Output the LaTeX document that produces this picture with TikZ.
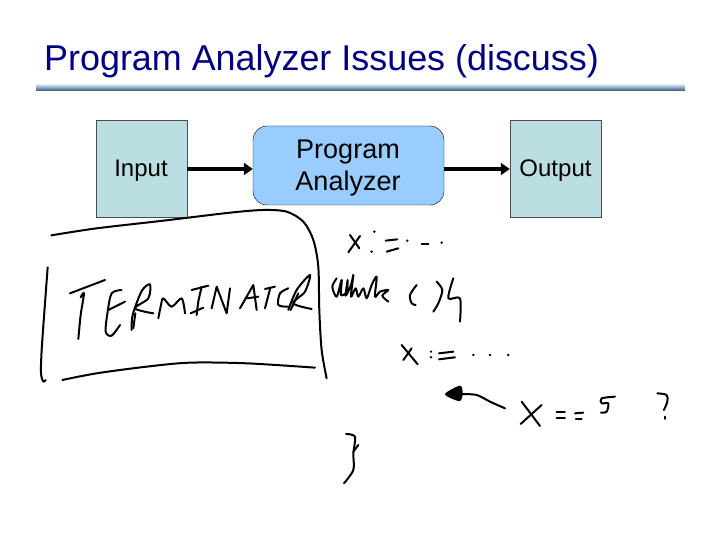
\documentclass[tikz,border=0pt]{standalone}
\usepackage{fontspec}
\setmainfont{Liberation Sans}
\usetikzlibrary{positioning,arrows.meta}
\definecolor{titleblue}{HTML}{000080}
\definecolor{boxteal}{HTML}{BBDEE2}
\definecolor{boxblue}{HTML}{99CCFF}
\definecolor{rulelight}{HTML}{C5DCE0}
\definecolor{ruledark}{HTML}{2F4F86}
\tikzset{
  iobox/.style={draw=black!70, fill=boxteal, minimum width=91pt, minimum height=97pt, inner sep=0pt, font=\fontsize{24}{28}\selectfont},
  analyzerbox/.style={draw=black, fill=boxblue, rounded corners=14pt, minimum width=191pt, minimum height=79pt, inner sep=0pt},
  analyzertext/.style={align=center, inner sep=0pt, font=\fontsize{27}{32}\selectfont},
  flow/.style={line width=3.2pt, -{Triangle[length=9pt,width=12pt]}},
  ink/.style={line width=2pt, line cap=round, line join=round},
  zoomed/.style={x=0.3333pt, y=-0.3333pt, ink},
}
\begin{document}
\begin{tikzpicture}[x=1pt, y=-1pt]
    \useasboundingbox[fill=white] (0,0) rectangle (720,540);

    \node[anchor=west, text=titleblue, inner sep=0pt, font=\fontsize{35.9}{40}\selectfont] (title) at (44,61.5) {Program Analyzer Issues (discuss)};
    \shade[top color=rulelight, bottom color=ruledark] (36,85) rectangle (685,91);

    \node[iobox] (input) at (141.5,168.5) {};
    \node[analyzerbox] (analyzer) at (348.5,165.5) {};
    \node[iobox] (output) at (555.5,168.5) {};
    \node[font=\fontsize{24}{28}\selectfont, inner sep=0pt] (inputlabel) at (141,171) {Input};
    \node[analyzertext] (analyzerlabel) at (348,168) {Program\\Analyzer};
    \node[font=\fontsize{24}{28}\selectfont, inner sep=0pt] (outputlabel) at (555.5,171) {Output};
    \draw[flow] (input.east |- 0,169) -- (analyzer.west |- 0,169);
    \draw[flow] (analyzer.east |- 0,169) -- (output.west |- 0,169);

    % box round the word
    \begin{scope}[shift={(30,210)}, zoomed]
        \draw plot[smooth] coordinates {(64,76) (200,55) (400,32) (600,8) (700,0) (770,5) (820,35) (850,90) (865,170) (868,300) (875,420) (890,505)};
        \draw plot[smooth] coordinates {(53,172) (45,280) (35,420) (33,490) (40,515) (47,510)};
        \draw plot[smooth] coordinates {(97,510) (200,490) (350,470) (480,458) (650,460) (855,473)};
    \end{scope}

    % T E R M
    \begin{scope}[shift={(60,265)}, zoomed]
        \draw (30,85) -- (135,45);
        \draw plot[smooth] coordinates {(62,97) (72,85) (62,150) (55,222)};
        \draw plot[smooth] coordinates {(185,75) (155,85) (143,140) (137,200) (155,212) (180,180)};
        \draw (145,135) -- (195,110);
        \draw plot[smooth] coordinates {(215,195) (218,150) (245,78) (270,58) (265,100) (225,130) (280,145)};
        \draw (220,190) -- (226,145);
        \draw plot[smooth] coordinates {(295,160) (303,120) (310,100) (335,125) (365,100) (375,145)};
    \end{scope}

    % I N A T O R
    \begin{scope}[shift={(190,265)}, zoomed]
        \draw (5,75) -- (55,62);
        \draw plot[smooth] coordinates {(35,65) (25,110) (20,150)};
        \draw (2,145) -- (40,128);
        \draw (65,130) -- (80,65) -- (110,145) -- (120,70);
        \draw (150,130) -- (190,60) -- (200,135);
        \draw (172,100) -- (205,95);
        \draw (225,72) -- (255,65);
        \draw (240,72) -- (225,130);
        \draw plot[smooth] coordinates {(295,70) (270,85) (265,120) (295,125)};
        \draw plot[smooth] coordinates {(295,135) (320,75) (360,30) (345,80) (310,115) (365,132)};
        \draw (302,135) -- (325,85);
    \end{scope}

    % while ( ) {
    \begin{scope}[shift={(325,265)}, zoomed]
        \draw plot[smooth] coordinates {(35,40) (22,65) (35,95) (50,45) (48,90) (65,80) (68,45) (62,92) (78,60) (85,30) (78,95) (92,70) (100,95) (115,70) (125,100) (140,60) (155,35) (150,95) (165,80) (190,75) (172,92) (190,110)};
        \draw plot[smooth] coordinates {(275,60) (255,90) (260,115) (272,120)};
        \draw plot[smooth] coordinates {(335,50) (352,75) (340,115) (325,140)};
        \draw plot[smooth] coordinates {(385,40) (370,100) (405,100) (405,170)};
    \end{scope}

    % the other lines of the code
    \begin{scope}[shift={(320,220)}, zoomed]
        \draw (90,45) -- (118,85);
        \draw (120,48) -- (85,97);
        \fill (163,35) circle (4);
        \fill (155,95) circle (4);
        \draw (197,62) -- (232,58);
        \draw (200,95) -- (235,85);
        \fill (262,62) circle (4);
        \draw (305,72) -- (325,72);
        \fill (365,68) circle (4);
        \draw (245,375) -- (293,433);
        \draw (275,385) -- (250,420);
        \fill (333,395) circle (4);
        \fill (333,412) circle (4);
        \draw (357,400) -- (400,395);
        \draw (357,418) -- (405,412);
        \fill (460,405) circle (4);
        \fill (510,405) circle (4);
        \fill (565,405) circle (4);
        \fill plot[smooth cycle] coordinates {(375,522) (420,497) (428,520) (422,542) (405,540)};
        \draw plot[smooth] coordinates {(420,522) (470,525) (510,545) (555,565)};
        \draw (605,545) -- (660,618);
        \draw (665,555) -- (602,612);
        \draw (710,575) -- (735,575);
        \draw (710,595) -- (735,595);
        \draw (765,580) -- (790,578);
        \draw (768,597) -- (785,597);
        \draw plot[smooth] coordinates {(885,530) (845,535) (845,550) (865,550) (860,575) (843,578)};
        \draw plot[smooth] coordinates {(1012,520) (1040,525) (1042,545) (1032,570)};
        \draw (1035,590) -- (1035,597);
        \draw plot[smooth] coordinates {(78,642) (105,650) (100,700) (100,750) (72,790)};
        \draw (115,675) -- (100,695);
    \end{scope}
\end{tikzpicture}
\end{document}
